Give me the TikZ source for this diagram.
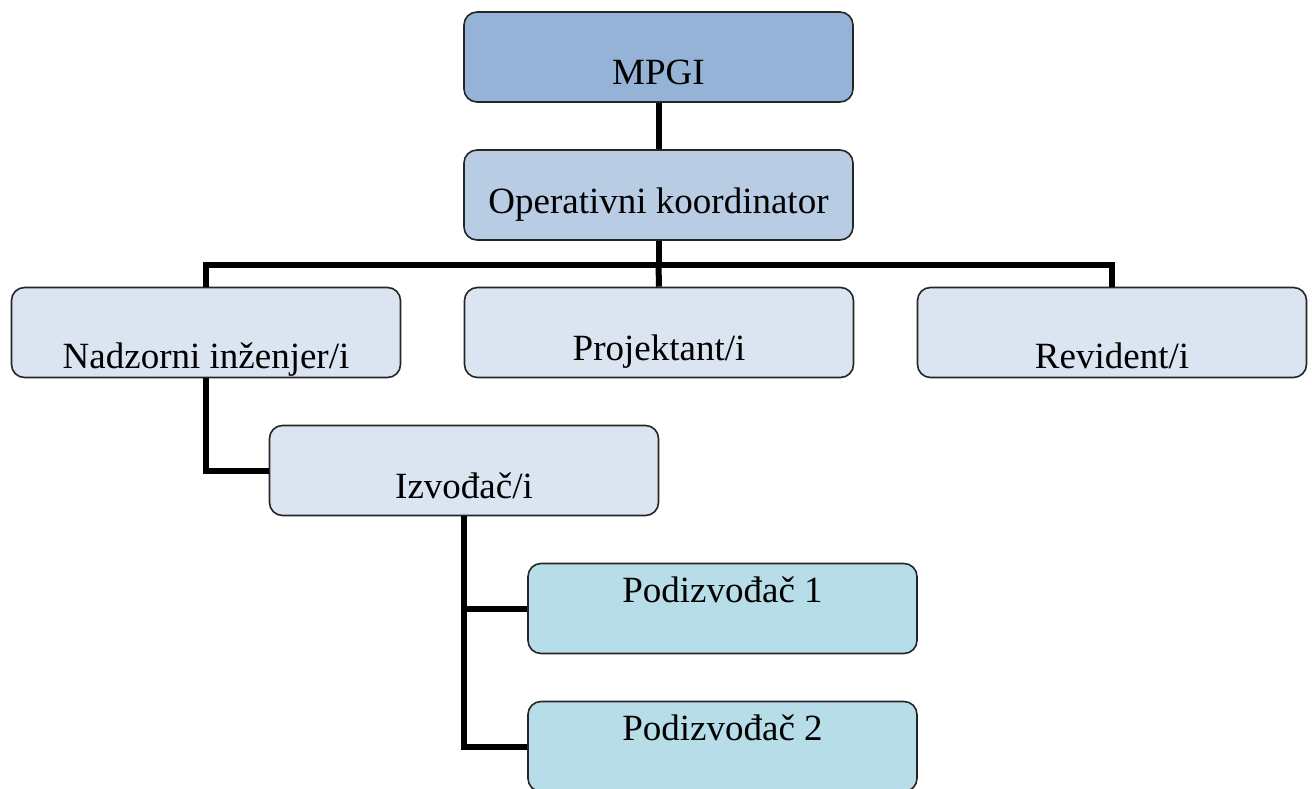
\documentclass[tikz,border=0pt]{standalone}
\usepackage{fontspec}
\setmainfont{Liberation Serif}
\definecolor{topblue}{HTML}{95B3D7}
\definecolor{midblue}{HTML}{B8CCE4}
\definecolor{paleblue}{HTML}{DBE5F1}
\definecolor{teal}{HTML}{B7DEE8}

\begin{document}
\begin{tikzpicture}[x=1pt, y=-1pt,
    nodes = {font=\fontsize{37}{44}\selectfont},
    orgbox/.style = {draw=black!85, line width=1.6pt, rounded corners=13pt,
      minimum width=389pt, minimum height=90pt, inner sep=0pt},
    link/.style = {line width=6pt}]
  \useasboundingbox (0,0) rectangle (1312,789);
  \node[orgbox, fill=topblue, text height=66pt, text depth=10pt] (mpgi) at (658.5,57) {MPGI};
  \node[orgbox, fill=midblue, text height=46pt, text depth=10pt] (koord) at (658.5,195) {Operativni koordinator};
  \node[orgbox, fill=paleblue, text height=80pt, text depth=8pt] (nadzor) at (206,332.5) {Nadzorni inženjer/i};
  \node[orgbox, fill=paleblue, text height=65pt, text depth=10pt] (projekt) at (659,332.5) {Projektant/i};
  \node[orgbox, fill=paleblue, text height=80pt, text depth=8pt] (revid) at (1112,332.5) {Revident/i};
  \node[orgbox, fill=paleblue, text height=65pt, text depth=10pt] (izvod) at (464,470.5) {Izvođač/i};
  \node[orgbox, fill=teal, text height=25pt, text depth=37pt] (podA) at (722.5,608.5) {Podizvođač 1};
  \node[orgbox, fill=teal, text height=25pt, text depth=37pt] (podB) at (722.5,746.5) {Podizvođač 2};
  \coordinate (bus) at (658.5,264.5);

  \draw[link] (mpgi) -- (koord);
  \draw[link] (koord) -- (bus);
  \draw[link] (nadzor.north) |- (bus) -| (revid.north);
  \draw[link] (bus) -- (projekt.north);
  \draw[link] (nadzor.south) |- (izvod.west);
  \draw[link] (izvod.south) |- (podA.west);
  \draw[link] (izvod.south) |- (podB.west);
\end{tikzpicture}
\end{document}
